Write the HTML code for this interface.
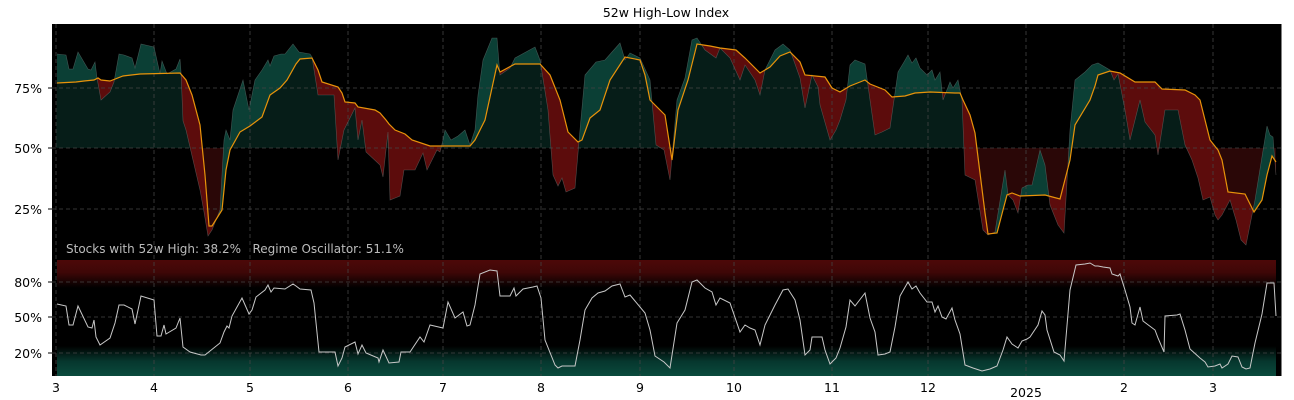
<!DOCTYPE html>
<html><head><meta charset="utf-8"><style>
html,body{margin:0;padding:0;background:#fff;}
svg{display:block;font-family:"DejaVu Sans","Liberation Sans",sans-serif;}
</style></head><body>
<svg id="s" width="1294" height="400" viewBox="0 0 1294 400" xmlns="http://www.w3.org/2000/svg">
<defs>
<linearGradient id="rg" x1="0" y1="0" x2="0" y2="1"><stop offset="0" stop-color="#4d0808"/><stop offset="0.45" stop-color="#3e0707"/><stop offset="1" stop-color="#000"/></linearGradient>
<linearGradient id="gg" x1="0" y1="0" x2="0" y2="1"><stop offset="0" stop-color="#000"/><stop offset="0.5" stop-color="#06362d"/><stop offset="1" stop-color="#0a4a3c"/></linearGradient>
<clipPath id="above"><path id="cAbove"/></clipPath>
<clipPath id="below"><path id="cBelow"/></clipPath>
<clipPath id="a50"><rect x="0" y="0" width="1294" height="148"/></clipPath>
<clipPath id="b50"><rect x="0" y="148" width="1294" height="120"/></clipPath>
</defs>
<rect width="1294" height="400" fill="#fff"/>
<text x="666" y="17" font-size="12.5" text-anchor="middle" fill="#000">52w High-Low Index</text>
<rect x="52" y="24" width="1230" height="352" fill="#000"/>
<path id="darkT" fill="#061d18" clip-path="url(#a50)"/>
<path id="darkR" fill="#2a0707" clip-path="url(#b50)"/>
<g clip-path="url(#above)"><path id="bandT" fill="#0b3f35"/></g>
<g clip-path="url(#below)"><path id="bandR" fill="#5c0c0c"/></g>
<rect x="57" y="260" width="1219" height="28" fill="url(#rg)"/>
<rect x="57" y="346" width="1219" height="30" fill="url(#gg)"/>
<g stroke="#444" stroke-width="0.8" stroke-dasharray="4,3">
<line x1="52" y1="88" x2="1282" y2="88"/><line x1="52" y1="148" x2="1282" y2="148"/><line x1="52" y1="209" x2="1282" y2="209"/>
<line x1="52" y1="282" x2="1282" y2="282"/><line x1="52" y1="317" x2="1282" y2="317"/><line x1="52" y1="353" x2="1282" y2="353"/>
<line x1="56" y1="24" x2="56" y2="376"/><line x1="154" y1="24" x2="154" y2="376"/><line x1="250" y1="24" x2="250" y2="376"/><line x1="348" y1="24" x2="348" y2="376"/><line x1="443" y1="24" x2="443" y2="376"/><line x1="541" y1="24" x2="541" y2="376"/><line x1="640" y1="24" x2="640" y2="376"/><line x1="734" y1="24" x2="734" y2="376"/><line x1="832" y1="24" x2="832" y2="376"/><line x1="928" y1="24" x2="928" y2="376"/><line x1="1026" y1="24" x2="1026" y2="376"/><line x1="1124" y1="24" x2="1124" y2="376"/><line x1="1213" y1="24" x2="1213" y2="376"/>
</g>
<polyline id="rawL" fill="none" stroke="#7a8a88" stroke-width="0.6" opacity="0.5"/>
<polyline id="smL" fill="none" stroke="#e8930a" stroke-width="1.2"/>
<polyline id="oscL" fill="none" stroke="#c8c8c8" stroke-width="1"/>
<text x="66" y="253" font-size="12" fill="#bbb" style="white-space:pre" xml:space="preserve">Stocks with 52w High: 38.2%   Regime Oscillator: 51.1%</text>
<line x1="1282" y1="24" x2="1282" y2="376" stroke="#fff" stroke-width="1"/>
<g font-size="12.5" fill="#000" text-anchor="end">
<text x="42" y="93">75%</text><text x="42" y="153">50%</text><text x="42" y="214">25%</text>
<text x="42" y="287">80%</text><text x="42" y="322">50%</text><text x="42" y="358">20%</text>
</g>
<g stroke="#000" stroke-width="1">
<line x1="48" y1="88" x2="52" y2="88"/><line x1="48" y1="148" x2="52" y2="148"/><line x1="48" y1="209" x2="52" y2="209"/>
<line x1="48" y1="282" x2="52" y2="282"/><line x1="48" y1="317" x2="52" y2="317"/><line x1="48" y1="353" x2="52" y2="353"/>
</g>
<g font-size="12.5" fill="#000" text-anchor="middle">
<text x="56" y="392">3</text><text x="154" y="392">4</text><text x="250" y="392">5</text><text x="348" y="392">6</text><text x="443" y="392">7</text><text x="541" y="392">8</text><text x="640" y="392">9</text><text x="734" y="392">10</text><text x="832" y="392">11</text><text x="928" y="392">12</text><text x="1026" y="397">2025</text><text x="1124" y="392">2</text><text x="1213" y="392">3</text>
</g>
</svg>
<script>
var raw="57,54 66,55 69,69 73,69 78,52 88,69 91,70 95,62 97,78 101,100 110,92 114,82 119,54 124,55 132,58 135,68 141,44 154,47 160,74 162,61 167,74 176,69 180,59 181,72 183,121 186,130 200,190 204,212 208,236 212,230 220,210 224,140 226,130 230,140 233,110 243,80 249,110 255,80 262,70 268,60 270,66 274,56 281,54 285,54 293,44 299,52 310,54 312,57 318,95 334,95 338,160 344,130 355,108 358,140 362,120 366,152 380,165 383,177 388,132 390,200 400,196 404,170 415,170 423,153 427,170 432,160 437,150 440,152 443,140 445,130 451,140 458,136 465,130 470,145 475,130 478,95 483,60 492,38 497,38 500,75 510,68 515,58 535,47 540,60 548,110 553,175 558,186 562,178 566,192 575,188 580,130 585,75 596,62 605,60 612,52 620,43 625,60 630,53 640,58 650,80 656,145 664,150 670,180 677,100 685,78 692,40 697,38 705,50 716,58 720,48 730,58 740,80 745,65 755,80 760,95 765,70 775,50 783,44 790,50 800,78 805,108 812,75 818,87 820,105 830,140 836,130 840,120 846,100 850,65 855,60 865,64 870,100 875,135 882,132 890,128 898,72 904,62 908,55 912,63 916,58 920,68 927,75 932,70 935,80 940,72 943,100 950,82 953,88 958,80 962,100 965,175 975,180 983,230 988,235 995,232 1005,170 1008,195 1013,200 1018,213 1022,188 1028,185 1032,185 1040,150 1045,165 1050,205 1058,225 1064,233 1070,130 1075,80 1085,72 1092,65 1098,63 1110,70 1114,80 1118,74 1125,110 1130,140 1135,120 1140,100 1145,122 1155,135 1158,155 1165,110 1178,110 1185,145 1192,160 1198,178 1203,200 1210,197 1215,215 1218,220 1222,215 1230,200 1236,220 1241,240 1246,245 1255,200 1267,126 1270,135 1273,137 1276,175";
var sm="57,83 76,82 84,81 94,80 98,78 101,80 110,81 123,76 140,74 180,73 186,80 192,95 200,125 205,175 209,226 212,226 222,210 226,170 230,150 240,132 250,126 262,117 270,95 280,88 287,80 296,64 300,59 312,58 318,70 322,82 338,87 342,93 345,102 355,103 358,107 375,110 380,113 386,120 389,124 395,130 405,134 412,140 430,146 470,146 475,140 485,120 497,65 500,72 515,64 540,64 550,75 560,100 568,132 578,142 582,140 590,118 600,110 610,80 625,57 640,60 645,75 650,100 665,115 672,160 678,110 688,80 697,44 710,46 720,48 736,50 745,58 760,73 770,67 780,56 790,52 800,62 805,75 825,77 832,88 840,92 850,86 865,80 870,84 885,90 892,97 905,96 915,93 930,92 955,93 960,93 963,100 970,115 975,133 985,213 988,234 997,233 1003,210 1007,195 1012,193 1020,196 1045,195 1060,199 1070,160 1075,125 1090,100 1095,86 1098,75 1110,71 1120,73 1135,82 1155,82 1162,89 1185,90 1195,95 1200,100 1210,140 1218,150 1222,160 1228,192 1245,194 1254,212 1262,200 1267,175 1272,156 1276,162";
var osc="57,304 66,306 69,325 73,325 78,306 88,327 92,328 94,320 96,337 100,345 110,338 115,323 119,305 124,305 132,309 135,324 141,296 154,300 157,336 161,336 164,325 166,334 176,328 180,318 183,347 190,352 201,355 205,355 210,351 220,343 224,332 227,326 229,328 232,316 242,298 249,314 252,310 256,297 265,290 268,285 271,292 274,288 285,289 293,284 296,286 300,289 311,290 314,303 319,352 326,352 335,352 338,366 342,358 345,347 355,342 358,354 362,345 366,353 378,358 379,362 383,350 389,363 399,362 401,352 410,352 420,337 424,342 430,325 443,328 448,302 455,318 463,312 467,326 470,325 475,305 480,274 490,270 497,271 500,296 510,296 514,288 516,296 523,289 533,287 537,286 541,298 545,340 555,365 558,368 562,366 566,366 575,366 580,340 585,310 592,298 598,293 605,291 612,286 620,284 625,297 630,295 645,313 650,330 655,356 664,362 670,368 677,323 685,310 692,282 697,280 705,288 712,292 716,305 720,298 730,303 740,332 745,325 750,328 755,330 760,345 765,325 775,305 783,290 788,289 795,300 800,320 805,355 810,350 812,337 822,337 825,350 830,364 836,358 840,348 846,327 850,300 855,306 865,293 870,318 875,332 878,355 885,354 890,352 895,327 900,296 908,282 912,289 916,286 920,293 927,302 932,302 935,312 938,306 942,317 946,319 952,308 955,320 960,334 965,365 973,368 982,371 990,369 997,366 1003,350 1007,337 1012,344 1018,348 1022,341 1027,339 1030,337 1038,325 1042,311 1045,315 1047,330 1054,352 1060,355 1064,361 1070,290 1076,265 1085,264 1090,263 1095,266 1098,266 1103,267 1110,268 1112,274 1118,276 1120,274 1125,290 1130,307 1132,323 1135,325 1140,307 1143,321 1155,330 1158,338 1164,352 1165,316 1177,315 1180,314 1185,330 1190,349 1200,358 1205,362 1208,367 1215,366 1220,364 1222,368 1228,364 1232,356 1238,357 1242,367 1246,369 1250,368 1255,343 1262,314 1267,283 1274,283 1276,316";
function P(s){return s.split(" ").map(function(p){return p.split(",").map(Number);});}
var R=P(raw),S=P(sm);
function pts(a){return a.map(function(p){return p[0]+","+p[1];}).join(" ");}
var Sr=S.slice().reverse();
function $(i){return document.getElementById(i);}
$("cAbove").setAttribute("d","M56,24 L"+pts(S).replace(/ /g," L")+" L1276,24 Z");
$("cBelow").setAttribute("d","M56,270 L"+pts(S).replace(/ /g," L")+" L1276,270 Z");
var band="M"+pts(R).replace(/ /g," L")+" L"+pts(Sr).replace(/ /g," L")+" Z";
$("bandT").setAttribute("d",band);$("bandR").setAttribute("d",band);
var dark="M56,148 L"+pts(S).replace(/ /g," L")+" L1276,148 Z";
$("darkT").setAttribute("d",dark);$("darkR").setAttribute("d",dark);
$("rawL").setAttribute("points",raw);$("smL").setAttribute("points",sm);$("oscL").setAttribute("points",osc);
</script>
</body></html>
